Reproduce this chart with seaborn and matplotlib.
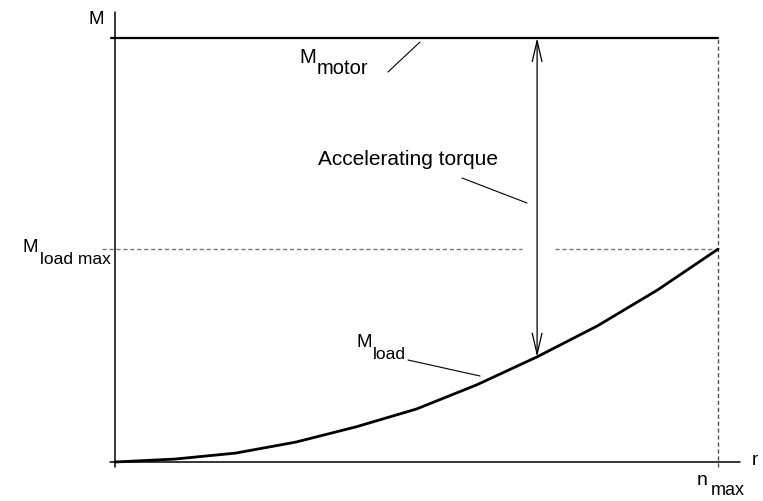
import matplotlib
matplotlib.use("Agg")
import matplotlib.pyplot as plt
import seaborn as sns
import pandas as pd

sns.set_theme(style="white")
plt.rcParams['font.family'] = ['Liberation Sans', 'DejaVu Sans']

# ---- data (speed as fraction of n_max, torque in % of motor torque) ----
speed = [0.0, 0.1, 0.2, 0.3, 0.4, 0.5, 0.6, 0.7, 0.8, 0.9, 1.0]
load_torque = [0.0, 0.7, 2.1, 4.7, 8.3, 12.5, 18.2, 24.8, 32.1, 40.6, 50.2]
motor_torque = 100.0
load_max = 50.2
accel_speed = 0.7
accel_load = 24.8

df_load = pd.DataFrame({"speed": speed, "torque": load_torque})
df_motor = pd.DataFrame({"speed": [-0.007, 1.0], "torque": [motor_torque, motor_torque]})

W, H = 763, 501
fig = plt.figure(figsize=(W / 100, H / 100), dpi=100)
ax = fig.add_axes([0, 0, 1, 1])

# pixel <-> data mapping helpers (layout only)
X0, XS = 115.0, 603.0
Y0, YS = 462.0, 4.24
ax.set_xlim(-X0 / XS, (W - X0) / XS)
ax.set_ylim((Y0 - H) / YS, Y0 / YS)
ax.axis("off")

def P(px, py):
    return ((px - X0) / XS, (Y0 - py) / YS)

# axes lines
ax.plot([P(110, 0)[0], P(740, 0)[0]], [0, 0], color="black", lw=1.1)
ax.plot([0, 0], [P(0, 467)[1], P(0, 12)[1]], color="black", lw=1.1)

# dashed guide lines
ax.plot([1.0, 1.0], [P(0, 467)[1], motor_torque], color="#555555", lw=1.0, ls=(0, (3, 2)))
ax.plot([P(102, 0)[0], P(522, 0)[0]], [load_max, load_max], color="#777777", lw=1.0, ls=(0, (3, 2)))
ax.plot([P(555, 0)[0], 1.0], [load_max, load_max], color="#777777", lw=1.0, ls=(0, (3, 2)))

# curves
sns.lineplot(data=df_motor, x="speed", y="torque", color="black", lw=1.6, ax=ax)
sns.lineplot(data=df_load, x="speed", y="torque", color="black", lw=2.0, ax=ax)

# accelerating torque arrow
ax.annotate("", xy=(accel_speed, motor_torque), xytext=(accel_speed, accel_load),
            arrowprops=dict(arrowstyle="<->,head_length=1.5,head_width=0.35",
                            mutation_scale=10, color="black", lw=0.9,
                            shrinkA=0, shrinkB=0))

fm = 13.5   # main letters
fss = 12.5  # subscripts

def T(px, py, s, size, ha="left"):
    x, y = P(px, py)
    ax.text(x, y, s, fontsize=size, ha=ha, va="baseline", color="black")

def L(p1, p2):
    a = P(*p1); b = P(*p2)
    ax.plot([a[0], b[0]], [a[1], b[1]], color="black", lw=0.8)

T(89, 24, "M", fm)
T(752, 465, "r", fm)
T(697, 485, "n", 14)
T(711, 495, "max", 13)

T(299, 63, "M", 14.5)
T(317, 74, "motor", 14.5)
L((388, 72), (420, 42))

T(318, 165, "Accelerating torque", 15)
L((462, 178), (527, 203))

T(23, 252, "M", fm)
T(40, 264, "load max", fss)

T(357, 347, "M", fm)
T(373, 359, "load", fss)
L((408, 360), (480, 376))

fig.savefig("out.png", dpi=100, facecolor="white")
